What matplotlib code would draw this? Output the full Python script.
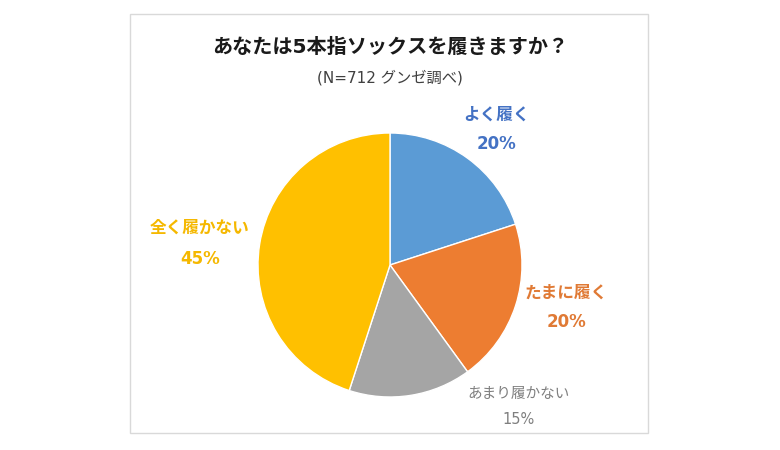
import matplotlib.pyplot as plt
from matplotlib.patches import Rectangle

# DejaVu for latin/digits (wide, like the original), Noto CJK for kana/kanji
plt.rcParams['font.family'] = ['DejaVu Sans', 'Noto Sans CJK JP']

# data
categories = ['よく履く', 'たまに履く', 'あまり履かない', '全く履かない']
shares = [20, 20, 15, 45]
slice_colors = ['#5B9BD5', '#ED7D31', '#A5A5A5', '#FFC000']
label_colors = ['#4472C4', '#E07A35', '#7F7F7F', '#F5B800']

title = 'あなたは5本指ソックスを履きますか？'
subtitle = '(N=712 グンゼ調べ)'

W, H = 780, 450
fig = plt.figure(figsize=(W / 100, H / 100), dpi=100)

# chart frame
fig.patches.append(Rectangle((130 / W, 1 - 433 / H), 518 / W, 419 / H,
                             transform=fig.transFigure, fill=False,
                             edgecolor='#D9D9D9', linewidth=1))

# pie: centre (390, 265) px, radius 132 px
ax = fig.add_axes([258 / W, 1 - 397 / H, 264 / W, 264 / H])
ax.pie(shares, colors=slice_colors, startangle=90, counterclock=False,
       radius=1, wedgeprops=dict(edgecolor='white', linewidth=1))
ax.set_xlim(-1, 1)
ax.set_ylim(-1, 1)
ax.set_aspect('equal')
ax.axis('off')

fig.text(390 / W, 1 - 47 / H, title, ha='center', va='center',
         fontsize=14.5, fontweight='bold', color='#1a1a1a')
fig.text(390 / W, 1 - 78 / H, subtitle, ha='center', va='center',
         fontsize=11, color='#404040')

# label centres in pixels (name line, percent line)
label_pos = [(497, 115, 144), (566, 293, 322), (519, 393, 420), (200, 228, 259)]
label_size = [12, 12, 10.5, 12]
label_bold = [True, True, False, True]

for name, val, col, (x, y1, y2), fs, b in zip(categories, shares, label_colors,
                                              label_pos, label_size, label_bold):
    w = 'bold' if b else 'normal'
    fig.text(x / W, 1 - y1 / H, name, ha='center', va='center',
             fontsize=fs, fontweight=w, color=col)
    fig.text(x / W, 1 - y2 / H, f'{val}%', ha='center', va='center',
             fontsize=fs, fontweight=w, color=col)

fig.savefig('out.png', dpi=100, facecolor='white')
